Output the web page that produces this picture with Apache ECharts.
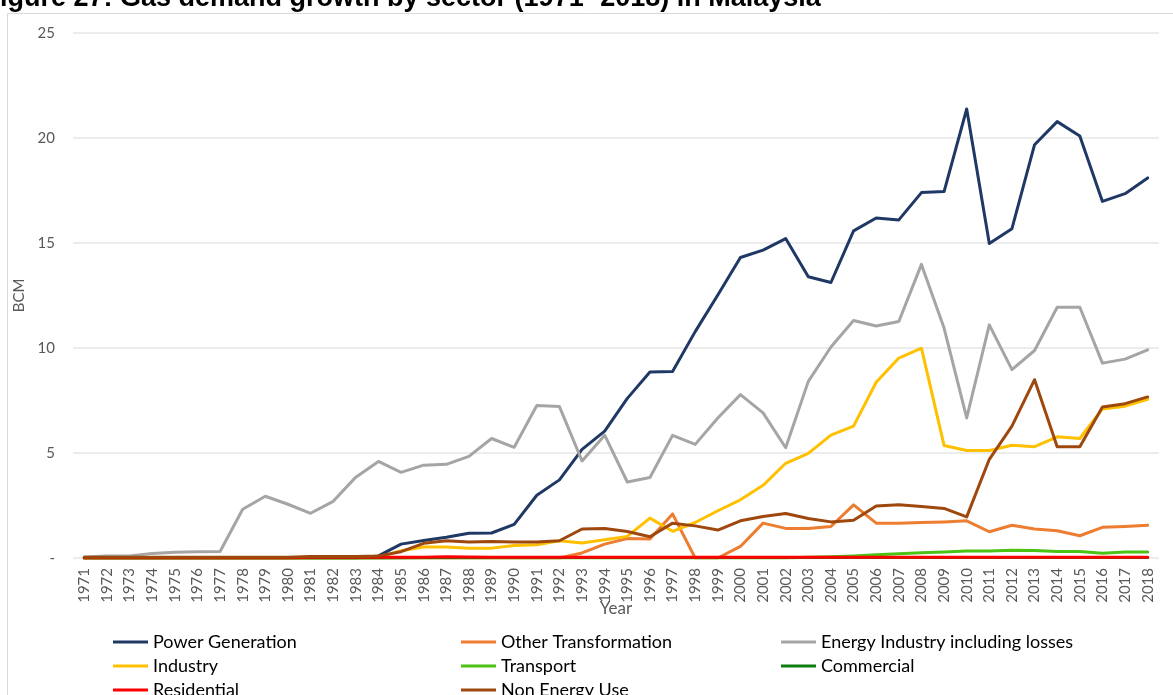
<!DOCTYPE html>
<html>
<head>
<meta charset="utf-8">
<script src="https://cdn.jsdelivr.net/npm/echarts@6/dist/echarts.min.js"></script>
<style>
  html, body { margin: 0; padding: 0; background: #ffffff; }
  #chart { width: 1173px; height: 695px; }
</style>
</head>
<body>
<div id="chart"></div>
<script>
// Gas demand by sector in Malaysia, 1971-2018 (BCM)
const years = [
  '1971','1972','1973','1974','1975','1976','1977','1978','1979','1980',
  '1981','1982','1983','1984','1985','1986','1987','1988','1989','1990',
  '1991','1992','1993','1994','1995','1996','1997','1998','1999','2000',
  '2001','2002','2003','2004','2005','2006','2007','2008','2009','2010',
  '2011','2012','2013','2014','2015','2016','2017','2018'
];

const powerGeneration = [
  0, 0, 0, 0, 0, 0, 0, 0, 0, 0,
  0, 0, 0, 0.1, 0.66, 0.83, 0.99, 1.18, 1.19, 1.6,
  2.99, 3.72, 5.17, 6.04, 7.6, 8.86, 8.88, 10.78, 12.52, 14.31,
  14.66, 15.21, 13.39, 13.12, 15.58, 16.19, 16.1, 17.4, 17.45, 21.38,
  14.98, 15.68, 19.68, 20.78, 20.1, 16.98, 17.35, 18.1
];

const otherTransformation = [
  0, 0, 0, 0, 0, 0, 0, 0, 0, 0,
  0, 0, 0, 0, 0, 0, 0, 0, 0, 0,
  0, 0, 0.24, 0.66, 0.93, 0.9, 2.1, 0, 0, 0.55,
  1.66, 1.41, 1.41, 1.5, 2.53, 1.66, 1.66, 1.69, 1.72, 1.77,
  1.25, 1.56, 1.38, 1.3, 1.06, 1.46, 1.5, 1.56
];

const energyIndustry = [
  0.05, 0.1, 0.1, 0.22, 0.27, 0.3, 0.31, 2.32, 2.94, 2.56,
  2.13, 2.7, 3.85, 4.6, 4.08, 4.42, 4.46, 4.84, 5.69, 5.27,
  7.26, 7.21, 4.62, 5.85, 3.62, 3.83, 5.84, 5.41, 6.67, 7.78,
  6.91, 5.25, 8.41, 10.05, 11.31, 11.05, 11.26, 13.98, 10.95, 6.67,
  11.1, 8.97, 9.88, 11.94, 11.94, 9.28, 9.47, 9.91
];

const industry = [
  0, 0, 0, 0, 0, 0, 0, 0, 0, 0,
  0, 0, 0, 0.02, 0.35, 0.52, 0.52, 0.47, 0.47, 0.6,
  0.63, 0.82, 0.71, 0.87, 1.03, 1.9, 1.27, 1.69, 2.25, 2.77,
  3.46, 4.51, 4.98, 5.85, 6.28, 8.37, 9.52, 9.99, 5.36, 5.12,
  5.12, 5.37, 5.3, 5.77, 5.69, 7.1, 7.23, 7.56
];

const transport = [
  0, 0, 0, 0, 0, 0, 0, 0, 0, 0,
  0, 0, 0, 0, 0, 0, 0, 0, 0, 0,
  0, 0, 0, 0, 0, 0, 0, 0, 0, 0,
  0, 0, 0.03, 0.06, 0.1, 0.15, 0.2, 0.25, 0.29, 0.33,
  0.33, 0.37, 0.36, 0.31, 0.31, 0.23, 0.28, 0.28
];

const commercial = [
  0, 0, 0, 0, 0, 0, 0, 0, 0, 0,
  0, 0, 0, 0, 0.01, 0.02, 0.02, 0.02, 0.02, 0.02,
  0.02, 0.02, 0.02, 0.02, 0.02, 0.02, 0.02, 0.02, 0.02, 0.02,
  0.02, 0.02, 0.02, 0.02, 0.02, 0.02, 0.02, 0.02, 0.02, 0.02,
  0.02, 0.02, 0.02, 0.02, 0.02, 0.02, 0.02, 0.02
];

const residential = [
  0, 0, 0, 0, 0, 0, 0, 0, 0, 0,
  0.03, 0.03, 0.03, 0.03, 0.03, 0.04, 0.06, 0.05, 0.04, 0.03,
  0.03, 0.03, 0.03, 0.03, 0.03, 0.03, 0.03, 0.03, 0.03, 0.03,
  0.03, 0.03, 0.03, 0.03, 0.03, 0.03, 0.03, 0.03, 0.03, 0.03,
  0.03, 0.03, 0.03, 0.03, 0.03, 0.03, 0.03, 0.03
];

const nonEnergyUse = [
  0.03, 0.03, 0.03, 0.03, 0.03, 0.03, 0.03, 0.03, 0.03, 0.03,
  0.07, 0.07, 0.07, 0.1, 0.3, 0.7, 0.82, 0.76, 0.79, 0.76,
  0.76, 0.82, 1.38, 1.41, 1.26, 1.01, 1.66, 1.53, 1.33, 1.77,
  1.98, 2.12, 1.88, 1.72, 1.8, 2.48, 2.53, 2.45, 2.36, 1.96,
  4.7, 6.28, 8.49, 5.3, 5.3, 7.19, 7.35, 7.67
];

const yTicks = [0, 5, 10, 15, 20, 25];

const sectors = [
  { name: 'Power Generation', data: powerGeneration, color: '#203864' },
  { name: 'Other Transformation', data: otherTransformation, color: '#ED7D31' },
  { name: 'Energy Industry including losses', data: energyIndustry, color: '#A5A5A5' },
  { name: 'Industry', data: industry, color: '#FFC000' },
  { name: 'Transport', data: transport, color: '#4CC212' },
  { name: 'Commercial', data: commercial, color: '#0E7C0E' },
  { name: 'Residential', data: residential, color: '#FF0000' },
  { name: 'Non Energy Use', data: nonEnergyUse, color: '#9E480E' }
];

const FONT = 'Lato, "Open Sans", sans-serif';
const TEXT_GREY = '#595959';

// three legend columns, one entry per row
const legendBase = {
  orient: 'vertical',
  top: 633,
  height: 80,
  padding: 0,
  icon: 'rect',
  itemWidth: 35,
  itemHeight: 3,
  itemGap: 6,
  textStyle: { fontFamily: FONT, fontSize: 18, color: '#000', lineHeight: 16 },
  selectedMode: false
};

const chart = echarts.init(document.getElementById('chart'), null, { renderer: 'canvas' });

chart.setOption({
  animation: false,
  backgroundColor: '#ffffff',
  graphic: [
    {
      type: 'rect',
      shape: { x: 7.5, y: 13.5, width: 1300, height: 800 },
      style: { fill: 'none', stroke: '#D9D9D9', lineWidth: 1 },
      silent: true
    },
    {
      type: 'text',
      x: -16.5,
      y: 12,
      style: {
        text: 'Figure 27: Gas demand growth by sector (1971- 2018) in Malaysia',
        font: 'bold 27px "Liberation Sans", Arial, sans-serif',
        fill: '#000',
        verticalAlign: 'bottom'
      },
      silent: true
    }
  ],
  grid: { left: 73, right: 14, top: 33, bottom: 137, containLabel: false },
  legend: [
    Object.assign({}, legendBase, { left: 113, data: ['Power Generation', 'Industry', 'Residential'] }),
    Object.assign({}, legendBase, { left: 461, data: ['Other Transformation', 'Transport', 'Non Energy Use'] }),
    Object.assign({}, legendBase, { left: 781, data: ['Energy Industry including losses', 'Commercial'] })
  ],
  xAxis: {
    type: 'category',
    data: years,
    boundaryGap: true,
    name: 'Year',
    nameLocation: 'middle',
    nameGap: 42,
    nameMoveOverlap: false,
    nameTextStyle: { fontFamily: FONT, fontSize: 17, color: TEXT_GREY },
    axisLine: { show: false },
    axisTick: { show: false },
    axisLabel: {
      rotate: 90,
      interval: 0,
      margin: 10,
      fontFamily: FONT,
      fontSize: 15,
      color: TEXT_GREY
    }
  },
  yAxis: {
    type: 'value',
    min: yTicks[0],
    max: yTicks[yTicks.length - 1],
    interval: yTicks[1] - yTicks[0],
    name: 'BCM',
    nameLocation: 'middle',
    nameGap: 43,
    nameTextStyle: { fontFamily: FONT, fontSize: 15, color: TEXT_GREY },
    axisLine: { show: false },
    axisTick: { show: false },
    axisLabel: {
      margin: 18,
      fontFamily: FONT,
      fontSize: 15,
      color: TEXT_GREY,
      formatter: function (v) { return v === 0 ? '-' : String(v); }
    },
    splitLine: { lineStyle: { color: '#E6E6E6', width: 1.5 } }
  },
  series: sectors.map(function (s) {
    return {
      name: s.name,
      type: 'line',
      data: s.data,
      symbol: 'none',
      smooth: false,
      itemStyle: { color: s.color },
      lineStyle: { color: s.color, width: 3, cap: 'round', join: 'round' }
    };
  })
});
</script>
</body>
</html>
